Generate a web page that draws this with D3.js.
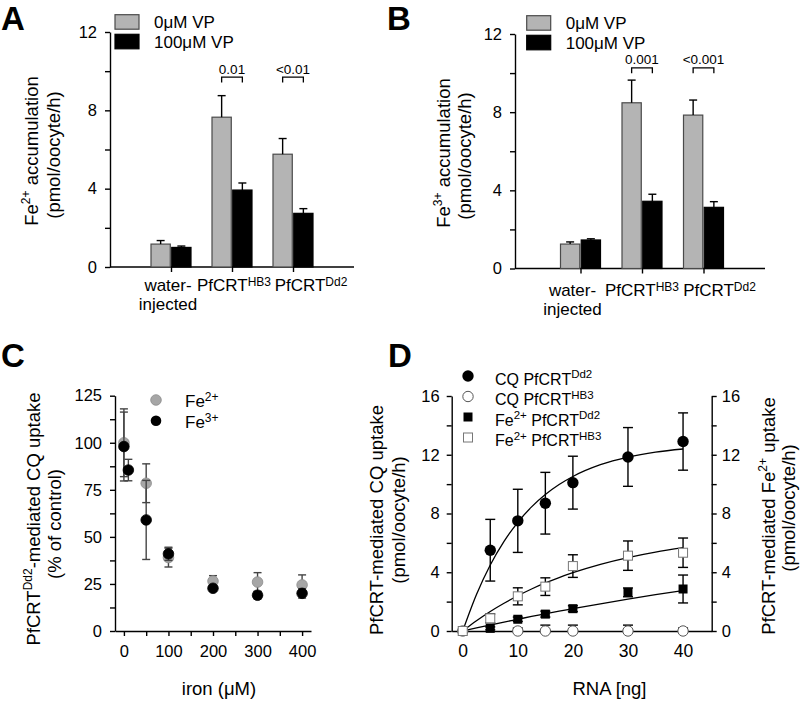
<!DOCTYPE html>
<html><head><meta charset="utf-8">
<script src="https://cdn.jsdelivr.net/npm/d3@7"></script>
<style>body{margin:0;background:#fff} svg{display:block}</style>
</head><body>
<svg id="c" width="800" height="703"></svg>
<script>
// ---------------- DATA ----------------
const barCategories = ["water-injected", "PfCRT HB3", "PfCRT Dd2"];
const barSeries = ["0μM VP", "100μM VP"];
const barYTicks = [0, 4, 8, 12];
const barYMinor = [2, 6, 10];

// Panel A: Fe2+ accumulation (pmol/oocyte/h)
const aControl = [1.17, 7.65, 5.76];
const aControlErr = [0.18, 1.10, 0.80];
const aVP = [1.00, 3.93, 2.74];
const aVPErr = [0.07, 0.36, 0.24];
const aPValues = ["0.01", "<0.01"];
const aBracketLevel = 9.7;

// Panel B: Fe3+ accumulation (pmol/oocyte/h)
const bControl = [1.25, 8.48, 7.85];
const bControlErr = [0.11, 1.16, 0.77];
const bVP = [1.46, 3.44, 3.13];
const bVPErr = [0.06, 0.36, 0.29];
const bPValues = ["0.001", "<0.001"];
const bBracketLevel = 10.27;

// Panel C: PfCRT Dd2-mediated CQ uptake (% of control) vs iron (µM)
const cXTicks = [0, 100, 200, 300, 400];
const cXMinor = [50, 150, 250, 350];
const cYTicks = [0, 25, 50, 75, 100, 125];
const cFe2X = [0, 50, 100, 200, 300, 400];
const cFe2Y = [100, 78.5, 39, 26.5, 26, 24.5];
const cFe2Err = [18, 10.3, 5, 2.9, 5, 5.3];
const cFe3X = [0, 10, 50, 100, 200, 300, 400];
const cFe3Y = [98, 85.5, 59, 41, 22.7, 19, 20];
const cFe3Err = [18.3, 5.7, 21, 3.5, 1.5, 2, 2.5];

// Panel D: uptake vs RNA [ng]
const dXTicks = [0, 10, 20, 30, 40];
const dYTicks = [0, 4, 8, 12, 16];
const dX = [0, 5, 10, 15, 20, 30, 40];
const dCQDd2 = [0, 5.5, 7.5, 8.7, 10.1, 11.85, 12.9];
const dCQDd2Err = [0, 2.1, 2.15, 2.1, 1.8, 2.0, 1.95];
const dCQHB3X = [0, 10, 15, 20, 30, 40];
const dCQHB3 = [0, 0, 0, 0, 0, 0];
const dCQHB3Err = [0, 0.2, 0.4, 0.4, 0.4, 0.2];
const dFeDd2 = [0, 0.18, 0.8, 1.15, 1.52, 2.63, 2.86];
const dFeDd2Err = [0, 0.1, 0.15, 0.2, 0.2, 0.3, 0.95];
const dFeHB3 = [0, 0.86, 2.36, 3.02, 4.42, 5.13, 5.33];
const dFeHB3Err = [0, 0.3, 0.58, 0.6, 0.77, 1.0, 1.0];
// fitted curves
const fitX = [0, 2.5, 5, 7.5, 10, 12.5, 15, 17.5, 20, 25, 30, 35, 40];
const fitCQDd2 = [0, 2.48, 4.49, 6.10, 7.40, 8.45, 9.29, 9.97, 10.52, 11.32, 11.84, 12.18, 12.39];
const fitFeHB3 = [0, 0.70, 1.33, 1.89, 2.40, 2.86, 3.27, 3.64, 3.97, 4.54, 5.00, 5.37, 5.67];
const fitFeDd2 = [0, 0.21, 0.41, 0.61, 0.80, 0.99, 1.17, 1.35, 1.52, 1.85, 2.17, 2.47, 2.75];

// ---------------- STYLE ----------------
const FONT = '"Liberation Sans", Arial, Helvetica, sans-serif';
const TICK = 16.5, TITLE = 18.5, SUP = 12;
const GRAYBAR = "#b4b4b4", GRAYDOT = "#a6a6a6";
const svg = d3.select("#c").attr("font-family", FONT);

function rich(parent, parts, size, supSize, rise) {
  const t = parent.append("text").attr("font-size", size).attr("fill", "#000");
  let up = false;
  parts.forEach(([s, sup]) => {
    const ts = t.append("tspan").text(s);
    if (sup) { ts.attr("font-size", supSize); if (!up) ts.attr("dy", -rise); up = true; }
    else { if (up) ts.attr("dy", rise); up = false; }
  });
  return t;
}
function styleAxis(g) {
  g.attr("font-size", TICK).attr("font-family", FONT);
  g.selectAll("path,line").attr("stroke", "#000").attr("stroke-width", 1.4);
  g.selectAll("text").attr("fill", "#000");
}
function panelLetter(txt, x, y) {
  svg.append("text").attr("x", x).attr("y", y).attr("font-size", 33).attr("font-weight", "bold").text(txt);
}
function yTitle(parts, x, y, rise) {
  rich(svg, parts, TITLE, SUP, rise || 8).attr("text-anchor", "middle")
    .attr("transform", `translate(${x},${y}) rotate(-90)`);
}

// ---------------- BAR PANELS ----------------
function barPanel(cfg) {
  const y = d3.scaleLinear().domain([0, 12]).range([cfg.yBot, cfg.yTop]);
  const x = d3.scalePoint().domain(barCategories).range(cfg.xRange).padding(1);
  const sub = d3.scaleBand().domain(barSeries).range([-20, 20]).paddingInner(0.07);
  const bw = sub.bandwidth();
  const g = svg.append("g");

  const ya = g.append("g").attr("transform", `translate(${cfg.axisX},0)`)
    .call(d3.axisLeft(y).tickValues(barYTicks.concat(barYMinor))
      .tickFormat(d => barYTicks.includes(d) ? d : "").tickSize(5).tickSizeOuter(0).tickPadding(8));
  styleAxis(ya);
  const xa = g.append("g").attr("transform", `translate(0,${cfg.yBot})`)
    .call(d3.axisBottom(x).tickSize(5).tickSizeOuter(0).tickFormat(""));
  xa.select(".domain").attr("d", `M${cfg.axisX},0H${cfg.xRange[1]}`);
  styleAxis(xa);

  const series = [
    {name: barSeries[0], vals: cfg.ctrl, errs: cfg.ctrlErr, fill: GRAYBAR, stroke: "#4a4a4a"},
    {name: barSeries[1], vals: cfg.vp, errs: cfg.vpErr, fill: "#000", stroke: "#000"}
  ];
  series.forEach(s => {
    const gg = g.append("g");
    barCategories.forEach((c, i) => {
      const cx = x(c) + sub(s.name);
      gg.append("rect").attr("x", cx).attr("width", bw)
        .attr("y", y(s.vals[i])).attr("height", y(0) - y(s.vals[i]))
        .attr("fill", s.fill).attr("stroke", s.stroke).attr("stroke-width", 1.2);
      const mx = cx + bw / 2;
      gg.append("line").attr("x1", mx).attr("x2", mx).attr("y1", y(s.vals[i]))
        .attr("y2", y(s.vals[i] + s.errs[i])).attr("stroke", "#000").attr("stroke-width", 1.4);
      gg.append("line").attr("x1", mx - 4).attr("x2", mx + 4)
        .attr("y1", y(s.vals[i] + s.errs[i])).attr("y2", y(s.vals[i] + s.errs[i]))
        .attr("stroke", "#000").attr("stroke-width", 1.4);
    });
  });

  // significance brackets
  [1, 2].forEach((ci, k) => {
    const c = barCategories[ci];
    const xl = x(c) + sub(barSeries[0]) + bw / 2, xr = x(c) + sub(barSeries[1]) + bw / 2;
    const top = y(cfg.bracket);
    g.append("path").attr("d", `M${xl},${top + 5.5}V${top}H${xr}V${top + 5.5}`)
      .attr("fill", "none").attr("stroke", "#000").attr("stroke-width", 1.3);
    g.append("text").attr("x", (xl + xr) / 2).attr("y", top - 3.5).attr("text-anchor", "middle")
      .attr("font-size", 13.5).text(cfg.pvals[k]);
  });

  // category labels
  const base = cfg.yBot + cfg.labelDy;
  const lx0 = x(barCategories[0]) + cfg.labelOff[0];
  g.append("text").attr("x", lx0).attr("y", base).attr("text-anchor", "middle").attr("font-size", 17).text("water-");
  g.append("text").attr("x", lx0).attr("y", base + 19).attr("text-anchor", "middle").attr("font-size", 17).text("injected");
  [["PfCRT", "HB3"], ["PfCRT", "Dd2"]].forEach((p, k) => {
    rich(g, [[p[0], 0], [p[1], 1]], 17, SUP, 5.5).attr("x", x(barCategories[k + 1]) + cfg.labelOff[k + 1])
      .attr("y", base).attr("text-anchor", "middle");
  });

  // legend
  series.forEach((s, i) => {
    g.append("rect").attr("x", cfg.legX).attr("y", cfg.legY + i * 19.6).attr("width", 24).attr("height", 14.5)
      .attr("fill", s.fill).attr("stroke", s.stroke).attr("stroke-width", 1.2);
    g.append("text").attr("x", cfg.legX + 39).attr("y", cfg.legY + 13.3 + i * 19.6)
      .attr("font-size", 17).text(s.name);
  });
}

barPanel({axisX: 110, xRange: [110, 354], yTop: 32, yBot: 267, ctrl: aControl, ctrlErr: aControlErr,
  vp: aVP, vpErr: aVPErr, pvals: aPValues, bracket: aBracketLevel, labelOff: [-3, 2, 18], labelDy: 24,
  legX: 115, legY: 14.7});
barPanel({axisX: 515, xRange: [519, 765], yTop: 34, yBot: 268.5, ctrl: bControl, ctrlErr: bControlErr,
  vp: bVP, vpErr: bVPErr, pvals: bPValues, bracket: bBracketLevel, labelOff: [-8, 0, 16], labelDy: 27.5,
  legX: 526.7, legY: 15.7});

panelLetter("A", 1, 30);
panelLetter("B", 387, 30);
yTitle([["Fe", 0], ["2+", 1], [" accumulation", 0]], 38, 151);
yTitle([["(pmol/oocyte/h)", 0]], 59.5, 155);
yTitle([["Fe", 0], ["3+", 1], [" accumulation", 0]], 450, 153);
yTitle([["(pmol/oocyte/h)", 0]], 471, 156);

// ---------------- PANEL C ----------------
(function () {
  const x = d3.scaleLinear().domain([-20, 420]).range([115, 311]);
  const y = d3.scaleLinear().domain([0, 125]).range([631, 395.7]);
  const g = svg.append("g");
  const ya = g.append("g").attr("transform", `translate(115,0)`)
    .call(d3.axisLeft(y).tickValues(d3.range(0, 126, 12.5))
      .tickFormat(d => cYTicks.includes(d) ? d : "").tickSize(5).tickSizeOuter(0).tickPadding(8));
  styleAxis(ya);
  const xa = g.append("g").attr("transform", `translate(0,631)`)
    .call(d3.axisBottom(x).tickValues(cXTicks.concat(cXMinor))
      .tickFormat(d => cXTicks.includes(d) ? d : "").tickSize(5).tickSizeOuter(0).tickPadding(9));
  styleAxis(xa);

  function drawSeries(xs, ys, es, fill, stroke) {
    xs.forEach((v, i) => {
      const cx = x(v), yt = y(ys[i] + es[i]), yb = y(ys[i] - es[i]);
      g.append("line").attr("x1", cx).attr("x2", cx).attr("y1", yt).attr("y2", yb).attr("stroke", "#444").attr("stroke-width", 1.4);
      [yt, yb].forEach(yy => g.append("line").attr("x1", cx - 4).attr("x2", cx + 4).attr("y1", yy).attr("y2", yy)
        .attr("stroke", "#444").attr("stroke-width", 1.4));
    });
    xs.forEach((v, i) => {
      g.append("circle").attr("cx", x(v)).attr("cy", y(ys[i])).attr("r", 5.3).attr("fill", fill)
        .attr("stroke", stroke).attr("stroke-width", 0.8);
    });
  }
  drawSeries(cFe2X, cFe2Y, cFe2Err, GRAYDOT, "#8c8c8c");
  drawSeries(cFe3X, cFe3Y, cFe3Err, "#000", "#000");

  // legend
  g.append("circle").attr("cx", 156).attr("cy", 400).attr("r", 5.3).attr("fill", GRAYDOT).attr("stroke", "#8c8c8c").attr("stroke-width", 0.8);
  g.append("circle").attr("cx", 156).attr("cy", 420.7).attr("r", 5.3).attr("fill", "#000");
  rich(g, [["Fe", 0], ["2+", 1]], 17, SUP, 6.5).attr("x", 185).attr("y", 407);
  rich(g, [["Fe", 0], ["3+", 1]], 17, SUP, 6.5).attr("x", 185).attr("y", 428);

  g.append("text").attr("x", 219).attr("y", 695).attr("text-anchor", "middle").attr("font-size", TITLE).text("iron (μM)");
})();
panelLetter("C", 1, 367);
yTitle([["PfCRT", 0], ["Dd2", 1], ["-mediated CQ uptake", 0]], 39.5, 519);
yTitle([["(% of control)", 0]], 61, 524);

// ---------------- PANEL D ----------------
(function () {
  const x = d3.scaleLinear().domain([-2, 45.2]).range([451.7, 711.7]);
  const y = d3.scaleLinear().domain([0, 16]).range([631, 396]);
  const g = svg.append("g");
  const allY = d3.range(0, 17, 2);
  const yl = g.append("g").attr("transform", `translate(451.7,0)`)
    .call(d3.axisLeft(y).tickValues(allY).tickFormat(d => dYTicks.includes(d) ? d : "")
      .tickSize(5).tickSizeOuter(0).tickPadding(7));
  styleAxis(yl);
  const yr = g.append("g").attr("transform", `translate(711.7,0)`)
    .call(d3.axisRight(y).tickValues(allY).tickFormat(d => dYTicks.includes(d) ? d : "")
      .tickSize(5).tickSizeOuter(0).tickPadding(5));
  styleAxis(yr);
  const xa = g.append("g").attr("transform", `translate(0,631)`)
    .call(d3.axisBottom(x).tickValues(dXTicks).tickSize(4).tickSizeOuter(0).tickPadding(10));
  styleAxis(xa);
  xa.attr("font-size", 17.5);

  const line = d3.line().x((d, i) => x(fitX[i])).y(d => y(d)).curve(d3.curveMonotoneX);
  [fitCQDd2, fitFeHB3, fitFeDd2].forEach(f => g.append("path").attr("d", line(f))
    .attr("fill", "none").attr("stroke", "#000").attr("stroke-width", 1.3));

  function errs(xs, ys, es) {
    xs.forEach((v, i) => {
      if (!es[i]) return;
      const cx = x(v), yt = y(ys[i] + es[i]), yb = y(Math.max(0, ys[i] - es[i]));
      g.append("line").attr("x1", cx).attr("x2", cx).attr("y1", yt).attr("y2", yb).attr("stroke", "#000").attr("stroke-width", 1.4);
      [yt, yb].forEach(yy => g.append("line").attr("x1", cx - 5).attr("x2", cx + 5).attr("y1", yy).attr("y2", yy)
        .attr("stroke", "#000").attr("stroke-width", 1.4));
    });
  }
  errs(dX, dFeDd2, dFeDd2Err);
  errs(dX, dFeHB3, dFeHB3Err);
  errs(dCQHB3X, dCQHB3, dCQHB3Err);
  errs(dX, dCQDd2, dCQDd2Err);

  const sq = 9;
  dX.forEach((v, i) => g.append("rect").attr("x", x(v) - sq / 2).attr("y", y(dFeDd2[i]) - sq / 2)
    .attr("width", sq).attr("height", sq).attr("fill", "#000"));
  dCQHB3X.forEach((v, i) => g.append("circle").attr("cx", x(v)).attr("cy", y(dCQHB3[i])).attr("r", 5.2)
    .attr("fill", "#fff").attr("stroke", "#555").attr("stroke-width", 1));
  dX.forEach((v, i) => g.append("rect").attr("x", x(v) - sq / 2).attr("y", y(dFeHB3[i]) - sq / 2)
    .attr("width", sq).attr("height", sq).attr("fill", "#fff").attr("stroke", "#777").attr("stroke-width", 1));
  dX.forEach((v, i) => { if (v > 0) g.append("circle").attr("cx", x(v)).attr("cy", y(dCQDd2[i])).attr("r", 5.7).attr("fill", "#000"); });

  // legend
  const lx = 468, ly = [376, 396.5, 417, 437.5];
  g.append("circle").attr("cx", lx).attr("cy", ly[0]).attr("r", 5.7).attr("fill", "#000");
  g.append("circle").attr("cx", lx).attr("cy", ly[1]).attr("r", 5.2).attr("fill", "#fff").attr("stroke", "#555").attr("stroke-width", 1);
  g.append("rect").attr("x", lx - sq / 2).attr("y", ly[2] - sq / 2).attr("width", sq).attr("height", sq).attr("fill", "#000");
  g.append("rect").attr("x", lx - sq / 2).attr("y", ly[3] - sq / 2).attr("width", sq).attr("height", sq)
    .attr("fill", "#fff").attr("stroke", "#777").attr("stroke-width", 1);
  const labels = [
    [["CQ PfCRT", 0], ["Dd2", 1]],
    [["CQ PfCRT", 0], ["HB3", 1]],
    [["Fe", 0], ["2+", 1], [" PfCRT", 0], ["Dd2", 1]],
    [["Fe", 0], ["2+", 1], [" PfCRT", 0], ["HB3", 1]]
  ];
  labels.forEach((p, i) => rich(g, p, 16, 11.5, 6.5).attr("x", 495).attr("y", ly[i] + 8.5));

  g.append("text").attr("x", 609.5).attr("y", 695).attr("text-anchor", "middle").attr("font-size", TITLE).text("RNA [ng]");
})();
panelLetter("D", 388, 367);
yTitle([["PfCRT-mediated CQ uptake", 0]], 383, 520);
yTitle([["(pmol/oocyte/h)", 0]], 405, 520);
yTitle([["PfCRT-mediated Fe", 0], ["2+", 1], [" uptake", 0]], 775, 516);
yTitle([["(pmol/oocyte/h)", 0]], 795, 508);
</script>
</body></html>
